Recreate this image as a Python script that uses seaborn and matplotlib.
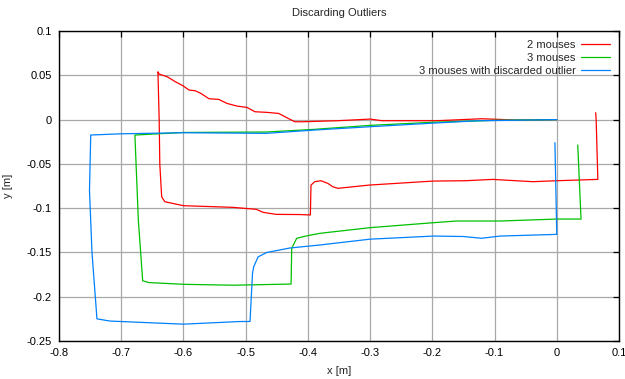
import numpy as np
import pandas as pd
import matplotlib
matplotlib.use("Agg")
import matplotlib.pyplot as plt
import seaborn as sns

# path (metres)
red_x = [0.0, -0.063, -0.121, -0.191, -0.281, -0.3, -0.351, -0.409, -0.421, -0.437,
         -0.447, -0.466, -0.485, -0.498, -0.514, -0.530, -0.543, -0.559, -0.572, -0.581,
         -0.591, -0.6, -0.613, -0.626, -0.639, -0.641, -0.639, -0.638, -0.635, -0.63,
         -0.6, -0.52, -0.483, -0.472, -0.451, -0.413, -0.396, -0.395, -0.389, -0.379,
         -0.368, -0.36, -0.352, -0.301, -0.199, -0.146, -0.103, -0.0385, 0.0, 0.066,
         0.0633, 0.0625]
red_y = [0.0, -0.0005, 0.001, -0.0012, -0.0012, 0.0006, -0.0012, -0.0024, -0.0024, 0.0033,
         0.007, 0.0082, 0.0089, 0.0138, 0.0153, 0.0183, 0.0228, 0.0236, 0.0296, 0.0326,
         0.0334, 0.0379, 0.0428, 0.0484, 0.0514, 0.054, 0.0, -0.05, -0.087, -0.0927,
         -0.0972, -0.0991, -0.1013, -0.1047, -0.107, -0.1072, -0.1077, -0.0739, -0.0701, -0.069,
         -0.072, -0.0758, -0.0776, -0.0739, -0.0694, -0.069, -0.0675, -0.0701, -0.069, -0.0675,
         -0.0005, 0.0078]

green_x = [0.0, -0.1, -0.2, -0.3, -0.39, -0.467, -0.6, -0.678, -0.6725, -0.6655,
           -0.656, -0.6, -0.52, -0.427, -0.426, -0.418, -0.4, -0.3805, -0.3, -0.198,
           -0.161, -0.091, 0.0, 0.039, 0.0337]
green_y = [0.0, -0.0008, -0.003, -0.0065, -0.011, -0.014, -0.0145, -0.0174, -0.1134, -0.182,
           -0.184, -0.186, -0.187, -0.1857, -0.1453, -0.134, -0.131, -0.1284, -0.122, -0.1164,
           -0.1145, -0.1145, -0.1123, -0.1123, -0.0287]

blue_x = [0.0, -0.127, -0.2, -0.3, -0.39, -0.467, -0.6, -0.7, -0.749, -0.751,
          -0.747, -0.739, -0.718, -0.6, -0.509, -0.493, -0.489, -0.487, -0.48, -0.466,
          -0.429, -0.381, -0.3, -0.198, -0.15, -0.121, -0.091, 0.0, -0.003]
blue_y = [0.0, -0.0013, -0.004, -0.008, -0.0118, -0.0155, -0.0148, -0.016, -0.0174, -0.08,
          -0.15, -0.225, -0.2275, -0.231, -0.228, -0.228, -0.1736, -0.166, -0.155, -0.150,
          -0.145, -0.1416, -0.135, -0.1315, -0.132, -0.134, -0.1315, -0.1296, -0.026]

labels = ["2 mouses", "3 mouses", "3 mouses with discarded outlier"]
colors = ["#ff0000", "#00c000", "#0080ff"]

frames = []
for lab, xs, ys in zip(labels, [red_x, green_x, blue_x], [red_y, green_y, blue_y]):
    frames.append(pd.DataFrame({"x": xs, "y": ys, "run": lab}))
df = pd.concat(frames, ignore_index=True)

sns.set_style("white")
plt.rcParams["font.family"] = ["Liberation Sans", "DejaVu Sans"]

fig = plt.figure(figsize=(6.25, 3.79), dpi=100)
ax = fig.add_axes([0.0944, 0.1003, 0.896, 0.8177])

sns.lineplot(data=df, x="x", y="y", hue="run", palette=colors, sort=False,
             estimator=None, linewidth=0.9, ax=ax, legend=False, zorder=3)

ax.set_xlim(-0.8, 0.1)
ax.set_ylim(-0.25, 0.1)
ax.set_xticks(np.arange(-0.8, 0.101, 0.1))
ax.set_yticks(np.arange(-0.25, 0.101, 0.05))
ax.set_xticklabels(["-0.8", "-0.7", "-0.6", "-0.5", "-0.4", "-0.3", "-0.2", "-0.1", "0", "0.1"])
ax.set_yticklabels(["-0.25", "-0.2", "-0.15", "-0.1", "-0.05", "0", "0.05", "0.1"])
ax.grid(True, color="#a8a8a8", linewidth=0.9, zorder=0)
ax.tick_params(direction="in", length=4, width=0.9, top=True, right=True,
               labelsize=8, pad=5, colors="black")
for s in ax.spines.values():
    s.set_color("black")
    s.set_linewidth(1.0)

ax.set_title("Discarding Outliers", fontsize=8, pad=11)
ax.set_xlabel("x [m]", fontsize=8, labelpad=6)
ax.set_ylabel("y [m]", fontsize=8, labelpad=10)

handles = [plt.Line2D([], [], color=c, linewidth=0.9) for c in colors]
leg = ax.legend(handles, labels, loc="upper right", frameon=False, markerfirst=False,
                fontsize=8, handlelength=2.6, labelspacing=0.25, handletextpad=0.5,
                borderaxespad=0.4)
for t in leg.get_texts():
    t.set_ha("right")
leg._legend_box.align = "right"

fig.savefig("out.png", dpi=100)
